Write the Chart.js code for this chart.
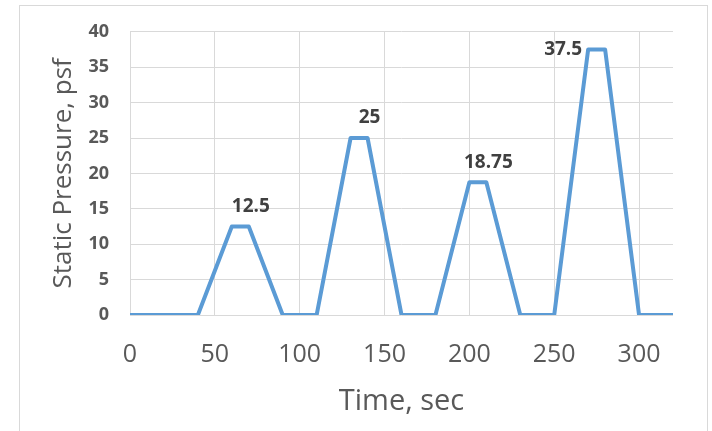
<!DOCTYPE html>
<html>
<head>
<meta charset="utf-8">
<script src="https://cdn.jsdelivr.net/npm/chart.js@4"></script>
<style>
html,body{margin:0;padding:0;background:#fff;}
#wrap{position:relative;width:712px;height:431px;}
</style>
</head>
<body>
<div id="wrap"><canvas id="c" width="712" height="431"></canvas></div>
<script>
// Data
const timeSec = [0, 40, 60, 70, 90, 110, 130, 140, 160, 180, 200, 210, 230, 250, 270, 280, 300, 320];
const pressurePsf = [0, 0, 12.5, 12.5, 0, 0, 25, 25, 0, 0, 18.75, 18.75, 0, 0, 37.5, 37.5, 0, 0];
const pointLabels = [null, null, null, '12.5', null, null, null, '25', null, null, null, '18.75', null, null, '37.5', null, null, null];
const labelSides = [null, null, null, 'above', null, null, null, 'above', null, null, null, 'above', null, null, 'left', null, null, null];
const xTicks = [0, 50, 100, 150, 200, 250, 300];
const yTicks = [0, 5, 10, 15, 20, 25, 30, 35, 40];

const points = timeSec.map((t, i) => ({x: t, y: pressurePsf[i]}));

const frame = {
  id: 'frame',
  beforeDraw(chart) {
    const ctx = chart.ctx;
    ctx.save();
    ctx.fillStyle = '#fff';
    ctx.fillRect(0, 0, chart.width, chart.height);
    ctx.strokeStyle = '#d9d9d9';
    ctx.lineWidth = 1;
    ctx.strokeRect(19.5, 5.5, 688, 450);
    ctx.restore();
  }
};

const dataLabels = {
  id: 'dataLabels',
  afterDatasetsDraw(chart) {
    const ctx = chart.ctx;
    const meta = chart.getDatasetMeta(0);
    ctx.save();
    ctx.font = 'bold 19px "Open Sans"';
    ctx.fillStyle = '#404040';
    pointLabels.forEach((txt, i) => {
      if (!txt) return;
      const el = meta.data[i];
      if (labelSides[i] === 'left') {
        ctx.textAlign = 'right';
        ctx.textBaseline = 'middle';
        ctx.fillText(txt, el.x - 6, el.y);
      } else {
        ctx.textAlign = 'center';
        ctx.textBaseline = 'middle';
        ctx.fillText(txt, el.x + 2, el.y - 20);
      }
    });
    ctx.restore();
  }
};

new Chart(document.getElementById('c'), {
  type: 'line',
  data: {
    datasets: [{
      data: points,
      borderColor: '#5b9bd5',
      borderWidth: 4,
      borderJoinStyle: 'round',
      pointRadius: 0,
      tension: 0,
      fill: false
    }]
  },
  options: {
    responsive: false,
    animation: false,
    events: [],
    layout: {padding: {left: 0, top: 28, right: 39, bottom: 0}},
    plugins: {legend: {display: false}, tooltip: {enabled: false}},
    scales: {
      x: {
        type: 'linear',
        min: 0,
        max: 320,
        afterFit(s) { s.height = 116; },
        afterBuildTicks(s) { s.ticks = xTicks.map(v => ({value: v})); },
        ticks: {
          includeBounds: false,
          padding: 25,
          color: '#595959',
          font: {family: '"Open Sans"', size: 25}
        },
        grid: {color: '#d9d9d9', drawTicks: false, lineWidth: 1},
        border: {display: false},
        title: {
          display: true,
          text: 'Time, sec',
          color: '#595959',
          font: {family: '"Open Sans"', size: 29},
          padding: {top: 0, bottom: 12}
        }
      },
      y: {
        min: 0,
        max: 40,
        afterFit(s) { s.width = 130; },
        afterBuildTicks(s) { s.ticks = yTicks.map(v => ({value: v})); },
        ticks: {
          padding: 21,
          color: '#595959',
          font: {family: '"Open Sans"', size: 18, weight: 'bold'}
        },
        grid: {color: '#d9d9d9', drawTicks: false, lineWidth: 1},
        border: {display: false},
        title: {
          display: true,
          text: 'Static Pressure, psf',
          color: '#595959',
          font: {family: '"Open Sans"', size: 26},
          padding: {top: 48, bottom: 0}
        }
      }
    }
  },
  plugins: [frame, dataLabels]
});
</script>
</body>
</html>
